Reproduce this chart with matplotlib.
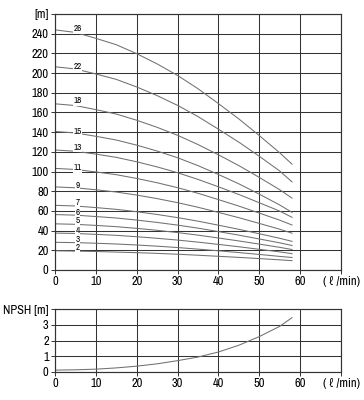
import matplotlib
matplotlib.use("Agg")
import matplotlib.pyplot as plt
from matplotlib import font_manager

# narrow font like the catalogue, if there is one
narrow = [f.name for f in font_manager.fontManager.ttflist
          if 'Narrow' in f.name or 'Condensed' in f.name]
plt.rcParams['font.family'] = (narrow[:1] + ['DejaVu Sans']) if narrow else ['DejaVu Sans']
plt.rcParams['font.stretch'] = 'condensed'

# flow rate (l/min)
flow = [0, 5, 10, 15, 20, 25, 30, 35, 40, 45, 50, 55, 58]

# head curves [m] per number of stages
stages = [2, 3, 4, 5, 6, 7, 9, 11, 13, 15, 18, 22, 26]
head = {
    2:  [19.5, 19.2, 18.8, 18.2, 17.6, 16.9, 16.0, 15.0, 13.9, 12.8, 11.6, 10.3, 9.5],
    3:  [28.1, 27.8, 27.2, 26.4, 25.4, 24.2, 22.8, 21.2, 19.5, 17.7, 15.8, 13.8, 12.7],
    4:  [37.5, 37.1, 36.2, 35.2, 33.8, 32.2, 30.4, 28.3, 26.0, 23.6, 21.0, 18.4, 16.6],
    5:  [46.9, 46.4, 45.3, 44.0, 42.3, 40.3, 38.0, 35.4, 32.5, 29.5, 26.3, 23.0, 20.8],
    6:  [56.3, 55.7, 54.3, 52.8, 50.7, 48.3, 45.6, 42.5, 39.0, 35.4, 31.5, 27.6, 24.9],
    7:  [65.7, 65.0, 63.4, 61.6, 59.2, 56.4, 53.2, 49.6, 45.5, 41.3, 36.8, 32.2, 29.1],
    9:  [84.4, 83.5, 81.5, 79.2, 76.1, 72.5, 68.4, 63.7, 58.5, 53.1, 47.3, 41.4, 37.4],
    11: [103.2, 102.1, 99.6, 96.8, 93.0, 88.6, 83.6, 77.9, 71.5, 64.9, 57.8, 50.6, 45.7],
    13: [121.9, 120.6, 117.7, 114.4, 109.9, 104.7, 98.8, 92.0, 84.5, 76.7, 68.3, 59.8, 53.5],
    15: [140.7, 139.2, 135.8, 132.0, 126.8, 120.8, 114.0, 106.0, 97.0, 87.5, 77.0, 66.0, 58.5],
    18: [168.8, 167.0, 162.9, 158.4, 152.1, 144.9, 136.8, 127.4, 117.0, 106.0, 94.0, 81.5, 73.0],
    22: [206.4, 204.2, 199.1, 193.6, 185.9, 177.1, 167.2, 155.8, 143.0, 129.8, 115.5, 100.5, 89.5],
    26: [243.9, 241.3, 235.3, 228.8, 219.7, 209.3, 197.6, 184.1, 169.0, 153.4, 136.5, 119.0, 107.5],
}
# label height of each stage number
label_y = [22.7, 31.2, 40.4, 50.0, 58.7, 68.5, 85.5, 103.8, 124.8, 140.7, 172, 206.5, 245]

# NPSH [m]
npsh = [0.12, 0.14, 0.18, 0.26, 0.37, 0.52, 0.72, 0.95, 1.27, 1.7, 2.25, 2.9, 3.45]

xticks = [0, 10, 20, 30, 40, 50, 60, 70]
xlabels = ['0', '10', '20', '30', '40', '50', '60', '( ℓ /min)']

fig = plt.figure(figsize=(3.64, 4.0), dpi=100)
ax1 = fig.add_axes([0.151, 0.325, 0.786, 0.64])
ax2 = fig.add_axes([0.151, 0.07, 0.786, 0.1575])

gridc = '#333333'
curvec = '#707070'

for ax in (ax1, ax2):
    ax.set_xlim(0, 70)
    ax.set_xticks(xticks)
    ax.set_xticklabels(xlabels)
    ax.grid(True, color=gridc, linewidth=0.75)
    ax.set_axisbelow(True)
    for s in ax.spines.values():
        s.set_color(gridc)
        s.set_linewidth(0.85)
    ax.tick_params(direction='out', length=3, width=0.7, color=gridc,
                   labelsize=9, pad=1.5)

# head curves
for st, ly in zip(stages, label_y):
    ax1.plot(flow, head[st], color=curvec, linewidth=0.75)
    ax1.text(5.5, ly, str(st), fontsize=6.5, ha='center', va='center',
             bbox=dict(facecolor='white', edgecolor='none', pad=0.3))

ax1.set_ylim(0, 260)
ax1.set_yticks(list(range(0, 261, 20)))
ax1.set_yticklabels([str(v) for v in range(0, 241, 20)] + ['[m]'])

# NPSH curve
ax2.plot(flow, npsh, color=curvec, linewidth=0.75)
ax2.set_ylim(0, 4)
ax2.set_yticks([0, 1, 2, 3, 4])
ax2.set_yticklabels(['0', '1', '2', '3', 'NPSH [m]'])

fig.savefig('out.png', dpi=100, facecolor='white')
